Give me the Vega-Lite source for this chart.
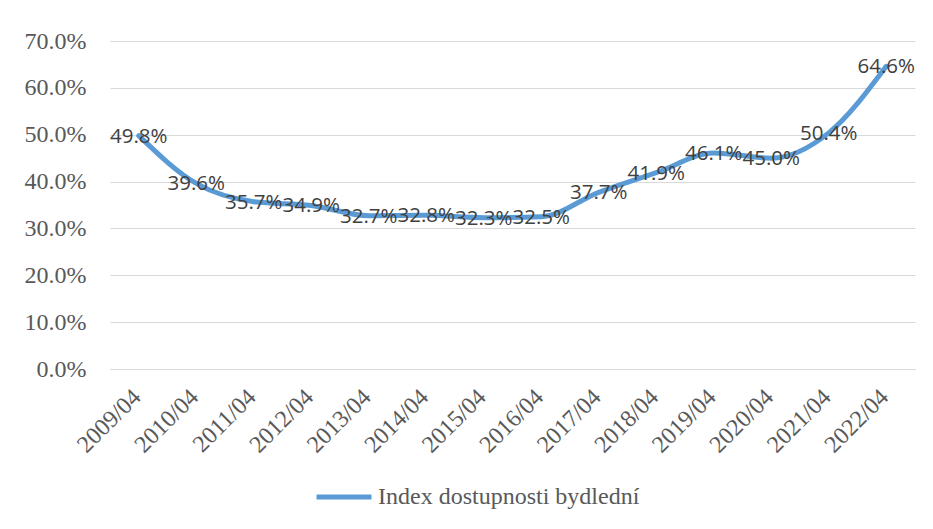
{
  "$schema": "https://vega.github.io/schema/vega-lite/v6.json",
  "autosize": "none",
  "width": 805,
  "height": 328,
  "padding": {"left": 110, "top": 41, "right": 18, "bottom": 160},
  "background": "white",
  "data": {"values": [
    {"period": "2009/04", "value": 0.498, "series": "Index dostupnosti bydlední"},
    {"period": "2010/04", "value": 0.396, "series": "Index dostupnosti bydlední"},
    {"period": "2011/04", "value": 0.357, "series": "Index dostupnosti bydlední"},
    {"period": "2012/04", "value": 0.349, "series": "Index dostupnosti bydlední"},
    {"period": "2013/04", "value": 0.327, "series": "Index dostupnosti bydlední"},
    {"period": "2014/04", "value": 0.328, "series": "Index dostupnosti bydlední"},
    {"period": "2015/04", "value": 0.323, "series": "Index dostupnosti bydlední"},
    {"period": "2016/04", "value": 0.325, "series": "Index dostupnosti bydlední"},
    {"period": "2017/04", "value": 0.377, "series": "Index dostupnosti bydlední"},
    {"period": "2018/04", "value": 0.419, "series": "Index dostupnosti bydlední"},
    {"period": "2019/04", "value": 0.461, "series": "Index dostupnosti bydlední"},
    {"period": "2020/04", "value": 0.450, "series": "Index dostupnosti bydlední"},
    {"period": "2021/04", "value": 0.504, "series": "Index dostupnosti bydlední"},
    {"period": "2022/04", "value": 0.646, "series": "Index dostupnosti bydlední"}
  ]},
  "encoding": {
    "x": {
      "field": "period", "type": "ordinal",
      "scale": {"type": "point", "padding": 0.5},
      "axis": {
        "title": null, "ticks": false, "domain": true, "domainColor": "#D9D9D9", "domainWidth": 1,
        "labelAngle": -45, "labelAlign": "right", "labelBaseline": "middle",
        "labelFont": "Times New Roman, Liberation Serif, serif", "labelFontSize": 24, "labelColor": "#595959",
        "labelPadding": 24, "labelOffset": -2, "grid": false
      }
    },
    "y": {
      "field": "value", "type": "quantitative",
      "scale": {"domain": [0, 0.7], "nice": false},
      "axis": {
        "title": null, "format": ".1%", "values": [0, 0.1, 0.2, 0.3, 0.4, 0.5, 0.6, 0.7],
        "ticks": false, "domain": false, "grid": true, "gridColor": "#D9D9D9", "gridWidth": 1,
        "labelFont": "Times New Roman, Liberation Serif, serif", "labelFontSize": 24, "labelColor": "#595959",
        "labelPadding": 24
      }
    }
  },
  "layer": [
    {
      "mark": {"type": "line", "interpolate": "monotone", "strokeWidth": 5, "strokeCap": "round", "strokeJoin": "round"},
      "encoding": {
        "color": {
          "field": "series", "type": "nominal",
          "scale": {"range": ["#5B9BD5"]},
          "legend": {
            "title": null, "orient": "none", "legendX": 204, "legendY": 426,
            "symbolType": "stroke", "symbolSize": 3025, "symbolStrokeWidth": 5,
            "labelFont": "Times New Roman, Liberation Serif, serif", "labelFontSize": 24, "labelColor": "#595959",
            "labelOffset": 4, "labelLimit": 400
          }
        }
      }
    },
    {
      "mark": {"type": "text", "font": "Open Sans", "fontSize": 20.5, "color": "#404040", "align": "center", "baseline": "middle", "dy": 1},
      "encoding": {
        "text": {"field": "value", "type": "quantitative", "format": ".1%"}
      }
    }
  ],
  "config": {"view": {"stroke": null}}
}
